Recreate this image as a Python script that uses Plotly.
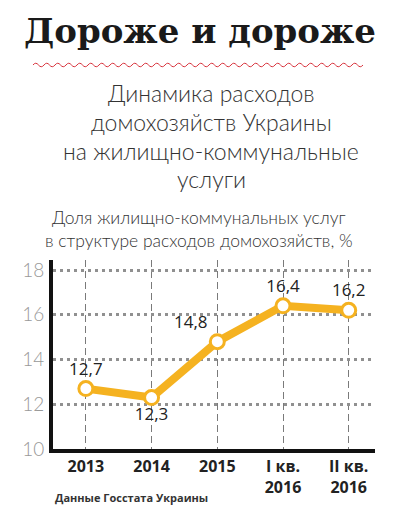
import plotly.graph_objects as go

categories = ["2013", "2014", "2015", "I кв.<br>2016", "II кв.<br>2016"]
values = [12.7, 12.3, 14.8, 16.4, 16.2]
value_labels = ["12,7", "12,3", "14,8", "16,4", "16,2"]
label_positions = ["top center", "bottom center", "top left", "top center", "top center"]
y_ticks = [10, 12, 14, 16, 18]

W, H = 396, 510
L, R, T, B = 53, 21, 260, 61
PW, PH = W - L - R, H - T - B


def px(x):
    return (x - L) / PW


def py(y):
    return (H - B - y) / PH


LINE = "#F5B220"

fig = go.Figure()
fig.add_trace(go.Scatter(
    x=list(range(len(categories))), y=values,
    mode="lines+markers+text",
    line=dict(color=LINE, width=8),
    marker=dict(size=14, color="white", line=dict(color=LINE, width=3)),
    text=value_labels, textposition=label_positions,
    textfont=dict(family="Open Sans", size=17, color="#222"),
    cliponaxis=False, hoverinfo="skip",
))

fig.update_layout(
    width=W, height=H,
    margin=dict(l=L, r=R, t=T, b=B, autoexpand=False),
    paper_bgcolor="white", plot_bgcolor="white",
    showlegend=False,
    xaxis=dict(
        range=[-0.5, 4.4], tickvals=list(range(len(categories))),
        ticktext=["<b>%s</b>" % c for c in categories],
        tickfont=dict(family="Open Sans", size=16, color="#222"),
        showgrid=True, gridcolor="#7a7a7a", gridwidth=1, griddash="7px,4px",
        showline=True, linecolor="#111", linewidth=4,
        zeroline=False, ticks="", fixedrange=True, automargin=False,
    ),
    yaxis=dict(
        range=[10, 18.45], tickvals=y_ticks,
        tickfont=dict(family="Lato", size=19, color="#999", weight=300),
        showgrid=True, gridcolor="#909090", gridwidth=2.5, griddash="2.5px,4.5px",
        showline=True, linecolor="#111", linewidth=4,
        zeroline=False, ticks="", ticklabelstandoff=1, fixedrange=True, automargin=False,
    ),
)

# Title
fig.add_annotation(text="<b>Дороже и дороже</b>", x=px(200), y=py(31), xref="paper", yref="paper",
                   showarrow=False, xanchor="center", yanchor="middle",
                   font=dict(family="DejaVu Serif", size=34, color="#1a1a1a"))

# Wavy red line
x0, x1, yy = 33, 368, 65
wl = 11.0
n = int((x1 - x0) / wl)
path = "M %f,%f" % (px(x0), py(yy))
for i in range(n):
    xa = x0 + i * wl
    path += " Q %f,%f %f,%f" % (px(xa + wl / 4), py(yy - 3.5), px(xa + wl / 2), py(yy))
    path += " Q %f,%f %f,%f" % (px(xa + 3 * wl / 4), py(yy + 3.5), px(xa + wl), py(yy))
fig.add_shape(type="path", path=path, xref="paper", yref="paper",
              line=dict(color="#d8323c", width=1))

# Subtitle
sub_lines = ["Динамика расходов", "домохозяйств Украины", "на жилищно-коммунальные", "услуги"]
sub_y = [93, 122, 151, 179]
for t, y in zip(sub_lines, sub_y):
    fig.add_annotation(text=t, x=px(211), y=py(y), xref="paper", yref="paper",
                       showarrow=False, xanchor="center", yanchor="middle",
                       font=dict(family="Lato", size=23, color="#333", weight=300))

# Axis title
ax_lines = ["Доля жилищно-коммунальных услуг", "в структуре расходов домохозяйств, %"]
ax_y = [218, 240]
for t, y in zip(ax_lines, ax_y):
    fig.add_annotation(text=t, x=px(199), y=py(y), xref="paper", yref="paper",
                       showarrow=False, xanchor="center", yanchor="middle",
                       font=dict(family="Lato", size=17.5, color="#333", weight=300))

# Source
fig.add_annotation(text="<b>Данные Госстата Украины</b>", x=px(53), y=py(497), xref="paper", yref="paper",
                   showarrow=False, xanchor="left", yanchor="middle",
                   font=dict(family="Open Sans", size=11, color="#333"))

fig.write_html("out.html", config={"displayModeBar": False},
               post_script="document.body.style.margin='0';document.body.style.overflow='hidden';")
